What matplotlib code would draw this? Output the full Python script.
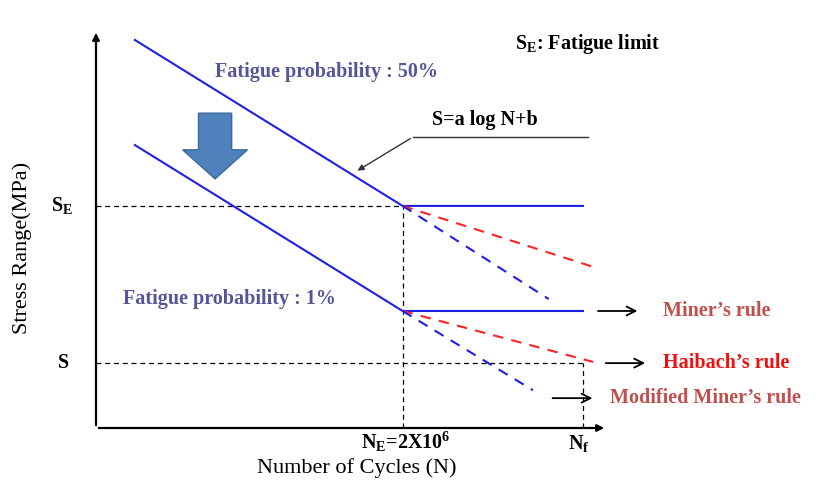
import matplotlib.pyplot as plt
from matplotlib.patches import FancyArrow

plt.rcParams['font.family'] = ['Liberation Serif', 'DejaVu Serif']
plt.rcParams['mathtext.fontset'] = 'custom'
plt.rcParams['mathtext.rm'] = 'Liberation Serif'
plt.rcParams['mathtext.bf'] = 'Liberation Serif:bold'
plt.rcParams['mathtext.it'] = 'Liberation Serif:italic'

# S-N curves (schematic units: x = log N position, y = stress)
n_start = 7.6
n_knee = 60.0
n_end = 95.3
s_e = 55.8          # fatigue limit, 50% curve
s_e_low = 29.4      # fatigue limit, 1% curve
s_level = 16.3      # S

curve50_x = [n_start, n_knee, n_end]
curve50_y = [97.5, s_e, s_e]
curve1_x = [n_start, n_knee, n_end]
curve1_y = [71.1, s_e_low, s_e_low]

# Haibach (red dashed) and modified Miner (blue dashed) extensions
haibach50_x = [n_knee, 98.0]
haibach50_y = [s_e, 40.2]
haibach1_x = [n_knee, 97.3]
haibach1_y = [s_e_low, 16.6]
modminer50_x = [n_knee, 88.6]
modminer50_y = [s_e, 32.4]
modminer1_x = [n_knee, 85.5]
modminer1_y = [s_e_low, 9.5]

fs = 14.5  # bold annotation size

fig = plt.figure(figsize=(8.25, 4.99), dpi=100)
ax = fig.add_axes([96 / 825, 71 / 499, 511 / 825, 398 / 499])
ax.set_xlim(0, 100)
ax.set_ylim(0, 100)
ax.axis('off')

blue = '#1f1fe6'
red = '#ff2222'

# axes with arrows
ax.annotate('', xy=(0, 100), xytext=(0, 0),
            arrowprops=dict(arrowstyle='-|>', lw=1.6, color='black', mutation_scale=10),
            annotation_clip=False)
ax.annotate('', xy=(100, 0), xytext=(0, 0),
            arrowprops=dict(arrowstyle='-|>', lw=1.6, color='black', mutation_scale=10),
            annotation_clip=False)

# reference dashed lines
ax.plot([0, n_knee], [s_e, s_e], color='black', lw=0.9, ls=(0, (4, 3)))
ax.plot([n_knee, n_knee], [0, s_e], color='black', lw=0.9, ls=(0, (4, 3)))
ax.plot([0, n_end], [s_level, s_level], color='black', lw=0.9, ls=(0, (4, 3)))
ax.plot([n_end, n_end], [0, s_level], color='black', lw=0.9, ls=(0, (4, 3)))

# curves
ax.plot(curve50_x, curve50_y, color=blue, lw=1.5)
ax.plot(curve1_x, curve1_y, color=blue, lw=1.5)
ax.plot(haibach50_x, haibach50_y, color=red, lw=1.5, ls=(0, (5, 4)))
ax.plot(haibach1_x, haibach1_y, color=red, lw=1.5, ls=(0, (5, 4)))
ax.plot(modminer50_x, modminer50_y, color=blue, lw=1.5, ls=(0, (5, 4)))
ax.plot(modminer1_x, modminer1_y, color=blue, lw=1.5, ls=(0, (5, 4)))

# big downward arrow
ax.add_patch(FancyArrow(23.3, 79.1, 0, -16.5, width=6.5, head_width=12.7,
                        head_length=7.3, length_includes_head=True,
                        facecolor='#4f81bd', edgecolor='#3b6a9e', lw=1))

# S = a log N + b leader
ax.plot([62.0, 96.3], [73.1, 73.1], color='#333333', lw=1)
ax.annotate('', xy=(50.7, 64.3), xytext=(62.0, 73.1),
            arrowprops=dict(arrowstyle='-|>', lw=1, color='#333333', mutation_scale=9))
ax.text(65.8, 77.3, 'S=a log N+b', fontsize=fs, fontweight='bold', va='center')

ax.text(82.0, 96.5, r'S$_\mathbf{E}$: Fatigue limit', fontsize=fs,
        fontweight='bold', va='center', clip_on=False)
ax.text(23.3, 89.4, 'Fatigue probability : 50%', fontsize=fs, fontweight='bold',
        color='#55559a', va='center')
ax.text(5.3, 32.4, 'Fatigue probability : 1%', fontsize=fs, fontweight='bold',
        color='#55559a', va='center')

# rule labels with arrows
rules = ['Miner’s rule', 'Haibach’s rule', 'Modified Miner’s rule']
rule_colors = ['#c0504d', '#ee1111', '#c0504d']
rule_arrow_x = [(97.7, 106.5), (99.2, 108.0), (88.8, 97.7)]
rule_y = [s_e_low, s_level, 7.5]
rule_text_x = [111.0, 111.0, 100.6]
for lab, col, (x0, x1), y, tx in zip(rules, rule_colors, rule_arrow_x, rule_y, rule_text_x):
    ax.annotate('', xy=(x1, y), xytext=(x0, y),
                arrowprops=dict(arrowstyle='->', lw=1.3, color='black', mutation_scale=16),
                annotation_clip=False)
    ax.text(tx, y, lab, fontsize=fs, fontweight='bold', color=col, va='center',
            clip_on=False)

# tick-like labels
ax.text(-6.7, s_e, r'S$_\mathbf{E}$', fontsize=fs, fontweight='bold', ha='center', va='center')
ax.text(-6.3, s_level, 'S', fontsize=fs, fontweight='bold', ha='center', va='center')
ax.text(60.7, -3.5, r'N$_\mathbf{E}$=2X10$^\mathbf{6}$', fontsize=fs, fontweight='bold',
        ha='center', va='center')
ax.text(94.5, -3.8, r'N$_\mathbf{f}$', fontsize=fs, fontweight='bold', ha='center', va='center')

ax.text(51.1, -10.0, 'Number of Cycles (N)', fontsize=16, ha='center', va='center')
ax.text(-14.5, 45.2, 'Stress Range(MPa)', fontsize=16, ha='center', va='center',
        rotation=90)

fig.savefig('out.png', dpi=100)
